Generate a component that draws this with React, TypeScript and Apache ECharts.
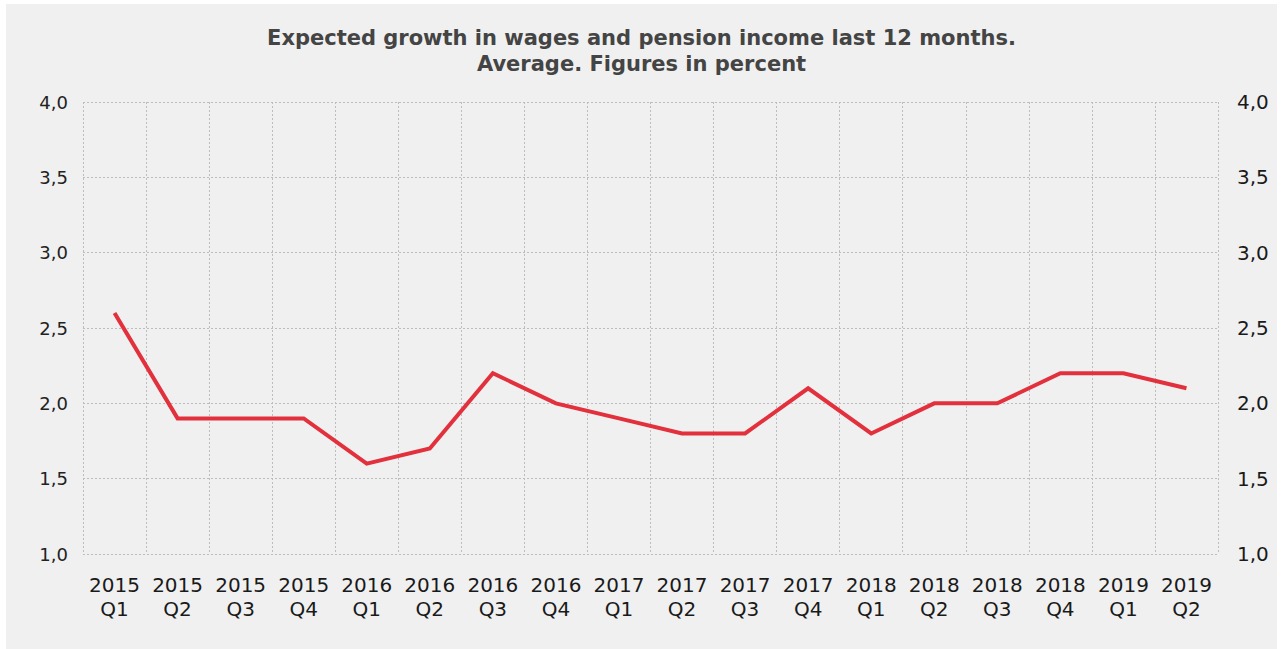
import React, { useEffect, useRef } from "react";
import * as echarts from "echarts";

const years = ["2015", "2015", "2015", "2015", "2016", "2016", "2016", "2016", "2017", "2017", "2017", "2017", "2018", "2018", "2018", "2018", "2019", "2019"];
const quarters = ["Q1", "Q2", "Q3", "Q4", "Q1", "Q2", "Q3", "Q4", "Q1", "Q2", "Q3", "Q4", "Q1", "Q2", "Q3", "Q4", "Q1", "Q2"];
const values = [2.6, 1.9, 1.9, 1.9, 1.6, 1.7, 2.2, 2.0, 1.9, 1.8, 1.8, 2.1, 1.8, 2.0, 2.0, 2.2, 2.2, 2.1];
const titleLines = ["Expected growth in wages and pension income last 12 months.", "Average. Figures in percent"];

const categories = years.map((y, i) => `${y}\n${quarters[i]}`);
const fmt = (v: number) => v.toFixed(1).replace(".", ",");

export default function App() {
  const ref = useRef<HTMLDivElement>(null);
  useEffect(() => {
    if (!ref.current) return;
    const chart = echarts.init(ref.current, null, { renderer: "svg" });
    const dashed = { color: "#bdbdbd", width: 1, type: [2, 2] as any };
    chart.setOption({
      animation: false,
      backgroundColor: "#f0f0f0",
      title: {
        text: titleLines.join("\n"),
        left: "center",
        top: 16,
        textStyle: {
          fontFamily: "DejaVu Sans",
          fontWeight: "bold",
          fontSize: 21,
          color: "#444",
          lineHeight: 26,
        },
      },
      grid: { left: 77, right: 59, top: 98, bottom: 95, containLabel: false },
      xAxis: {
        type: "category",
        data: categories,
        boundaryGap: true,
        axisLine: { show: false },
        axisTick: { show: false },
        splitLine: { show: true, lineStyle: dashed },
        axisLabel: {
          interval: 0,
          margin: 19,
          fontFamily: "DejaVu Sans",
          fontSize: 20,
          color: "#1a1a1a",
          lineHeight: 24,
        },
      },
      yAxis: [
        {
          type: "value",
          min: 1,
          max: 4,
          interval: 0.5,
          position: "left",
          axisLine: { show: false },
          axisTick: { show: false },
          splitLine: { show: true, lineStyle: dashed },
          axisLabel: {
            margin: 15,
            fontFamily: "DejaVu Sans",
            fontSize: 18,
            color: "#222",
            formatter: fmt,
            padding: [6, 0, 0, 0],
          },
        },
        {
          type: "value",
          min: 1,
          max: 4,
          interval: 0.5,
          position: "right",
          axisLine: { show: false },
          axisTick: { show: false },
          splitLine: { show: false },
          axisLabel: {
            margin: 19,
            fontFamily: "DejaVu Sans",
            fontSize: 20,
            color: "#1a1a1a",
            formatter: fmt,
          },
        },
      ],
      series: [
        {
          type: "line",
          data: values,
          yAxisIndex: 0,
          symbol: "none",
          lineStyle: { color: "#e2313d", width: 4, join: "miter" },
        },
      ],
    });
    return () => chart.dispose();
  }, []);
  return (
    <div style={{ position: "fixed", left: 0, top: 0, width: 1284, height: 649, background: "#ffffff" }}>
      <div ref={ref} style={{ position: "absolute", left: 6, top: 4, width: 1271, height: 645 }} />
    </div>
  );
}
